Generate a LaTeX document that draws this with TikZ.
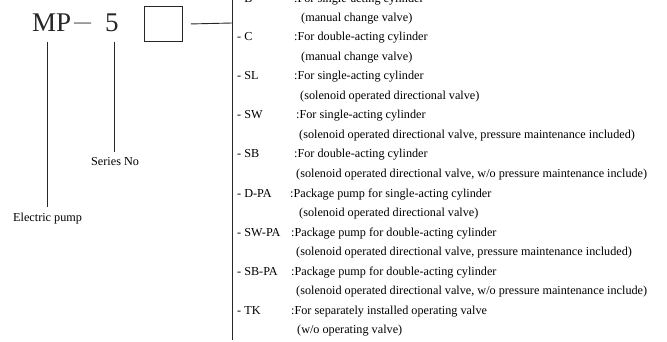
\documentclass[tikz,border=0pt]{standalone}
\usepackage{fontspec}
\setmainfont{Liberation Serif}
\begin{document}
\begin{tikzpicture}[x=1pt,y=-1pt,
  txt/.style={anchor=base west,inner sep=0pt,text=black,font=\fontsize{12.2}{14}\selectfont},
  big/.style={anchor=base west,inner sep=0pt,text=black!85,font=\fontsize{27}{30}\selectfont},
  ln/.style={draw=black!85,line width=0.9pt}]
\useasboundingbox (0,0) rectangle (667,342);
\clip (0,0) rectangle (667,342);
% model code
\node[big] (mp) at (32,32) {MP};
\node[anchor=base west,inner sep=0pt,text=black!85,font=\fontsize{17}{17}\selectfont] (dash) at (74,28) {—};
\node[big] (five) at (105,32) {5};
\node[draw=black!85,line width=0.9pt,minimum width=38pt,minimum height=35pt,inner sep=0pt,anchor=north west] (box) at (144,6) {};
\node[txt] (series) at (91,166) {Series No};
\node[txt] (pump) at (13,222) {Electric pump};
\coordinate (mpt) at (47,42);
\coordinate (mpb) at (47,207);
\coordinate (ft) at (114,42);
\coordinate (fb) at (114,152);
\coordinate (bj) at (232,23);
\coordinate (bt) at (232,0);
\coordinate (bb) at (232,340);
\draw[ln] (mpt) -- (mpb);
\draw[ln] (ft) -- (fb);
\draw[ln] ([xshift=8pt]box.east) -- (bj);
\draw[ln] (bt) -- (bb);
% options
\node[txt] (c0) at (237,3) {- B};
\node[txt] (d0) at (294,3) {:For single-acting cylinder};
\node[txt] (e0) at (301,21.5) {(manual change valve)};
\node[txt] (c1) at (237,41) {- C};
\node[txt] (d1) at (294,41) {:For double-acting cylinder};
\node[txt] (e1) at (301,60.5) {(manual change valve)};
\node[txt] (c2) at (237,80) {- SL};
\node[txt] (d2) at (294,80) {:For single-acting cylinder};
\node[txt] (e2) at (300,99.5) {(solenoid operated directional valve)};
\node[txt] (c3) at (237,119) {- SW};
\node[txt] (d3) at (296,119) {:For single-acting cylinder};
\node[txt] (e3) at (299,138.5) {(solenoid operated directional valve, pressure maintenance included)};
\node[txt] (c4) at (237,158) {- SB};
\node[txt] (d4) at (294,158) {:For double-acting cylinder};
\node[txt] (e4) at (296,177.5) {(solenoid operated directional valve, w/o pressure maintenance include)};
\node[txt] (c5) at (237,197) {- D-PA};
\node[txt] (d5) at (290,197) {:Package pump for single-acting cylinder};
\node[txt] (e5) at (299,216.5) {(solenoid operated directional valve)};
\node[txt] (c6) at (237,236) {- SW-PA};
\node[txt] (d6) at (291,236) {:Package pump for double-acting cylinder};
\node[txt] (e6) at (296,255.5) {(solenoid operated directional valve, pressure maintenance included)};
\node[txt] (c7) at (237,275) {- SB-PA};
\node[txt] (d7) at (291,275) {:Package pump for double-acting cylinder};
\node[txt] (e7) at (296,294.5) {(solenoid operated directional valve, w/o pressure maintenance include)};
\node[txt] (c8) at (237,314) {- TK};
\node[txt] (d8) at (291,314) {:For separately installed operating valve};
\node[txt] (e8) at (297,333.5) {(w/o operating valve)};
\end{tikzpicture}
\end{document}
